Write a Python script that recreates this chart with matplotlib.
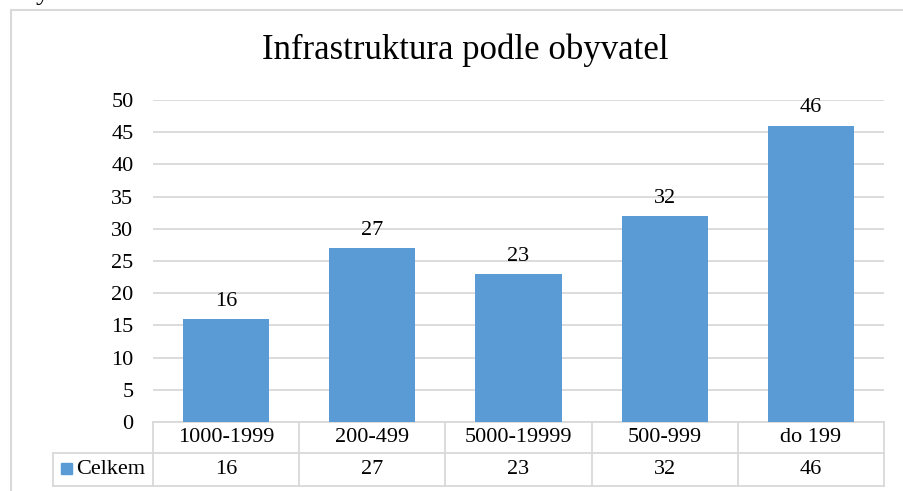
import numpy as np
import matplotlib.pyplot as plt
from matplotlib.lines import Line2D
from matplotlib.patches import Rectangle
import matplotlib.transforms as mtransforms

plt.rcParams['font.family'] = ['Liberation Serif', 'DejaVu Serif']

categories = ['1000-1999', '200-499', '5000-19999', '500-999', 'do 199']
values = [16, 27, 23, 32, 46]
series_name = 'Celkem'
yticks = [0, 5, 10, 15, 20, 25, 30, 35, 40, 45, 50]

W, H = 904, 491
bar_color = '#5B9BD5'
grid_color = '#D9D9D9'
fs = 16


def fx(px):
    return px / W


def fy(py):
    return 1 - py / H


fig = plt.figure(figsize=(W / 100, H / 100), dpi=100)

# chart outer frame (partly cropped on the right and bottom)
fig.add_artist(Rectangle((fx(11), fy(H + 5)), 1.2, fy(10) - fy(H + 5),
                         transform=fig.transFigure, fill=False,
                         edgecolor=grid_color, linewidth=1.5))
# cut-off letter from the surrounding document
fig.text(fx(36), 1.0 + 1 / H, 'y', fontsize=20, va='baseline', ha='left')

left, right, top, bottom = 153, 884, 100, 422
ax = fig.add_axes([fx(left), fy(bottom), fx(right - left), (bottom - top) / H])

x = np.arange(len(categories))
bars = ax.bar(x, values, width=0.59, color=bar_color, zorder=3)
ax.set_xlim(-0.5, len(categories) - 0.5)
ax.set_ylim(0, 50)
ax.set_yticks(yticks)
ax.set_yticklabels([str(t) for t in yticks], fontsize=fs)
ax.tick_params(axis='y', length=0, pad=14)
ax.set_xticks([])
ax.grid(axis='y', color=grid_color, linewidth=1.3, zorder=0)
for s in ax.spines.values():
    s.set_visible(False)

for b, v in zip(bars, values):
    ax.annotate(str(v), (b.get_x() + b.get_width() / 2, v),
                xytext=(0, 6), textcoords='offset points',
                ha='center', va='bottom', fontsize=fs)

fig.text(fx(465), fy(50), 'Infrastruktura podle obyvatel', fontsize=25,
         ha='center', va='center')

# data table under the axis
trans = mtransforms.blended_transform_factory(ax.transData, ax.transAxes)
ah = bottom - top
r1 = -(453 - bottom) / ah
r2 = -(486 - bottom) / ah
xleg = -0.5 - (left - 53) / ((right - left) / len(categories))
lw = 1.3
tc = grid_color


def line(xs, ys):
    ax.add_line(Line2D(xs, ys, transform=trans, color=tc, linewidth=lw,
                       clip_on=False))


line([-0.5, len(categories) - 0.5], [0, 0])
line([xleg, len(categories) - 0.5], [r1, r1])
line([xleg, len(categories) - 0.5], [r2, r2])
for i in range(len(categories) + 1):
    line([i - 0.5, i - 0.5], [0, r2])
line([xleg, xleg], [r1, r2])

for i, (c, v) in enumerate(zip(categories, values)):
    ax.text(i, r1 / 2, c, transform=trans, ha='center', va='center',
            fontsize=fs, clip_on=False)
    ax.text(i, (r1 + r2) / 2, str(v), transform=trans, ha='center',
            va='center', fontsize=fs, clip_on=False)

fig.add_artist(Rectangle((fx(61), fy(474)), fx(11), 11 / H,
                         transform=fig.transFigure, color=bar_color))
fig.text(fx(76), fy(469), series_name, fontsize=fs, ha='left', va='center')

fig.savefig('out.png', dpi=100)
